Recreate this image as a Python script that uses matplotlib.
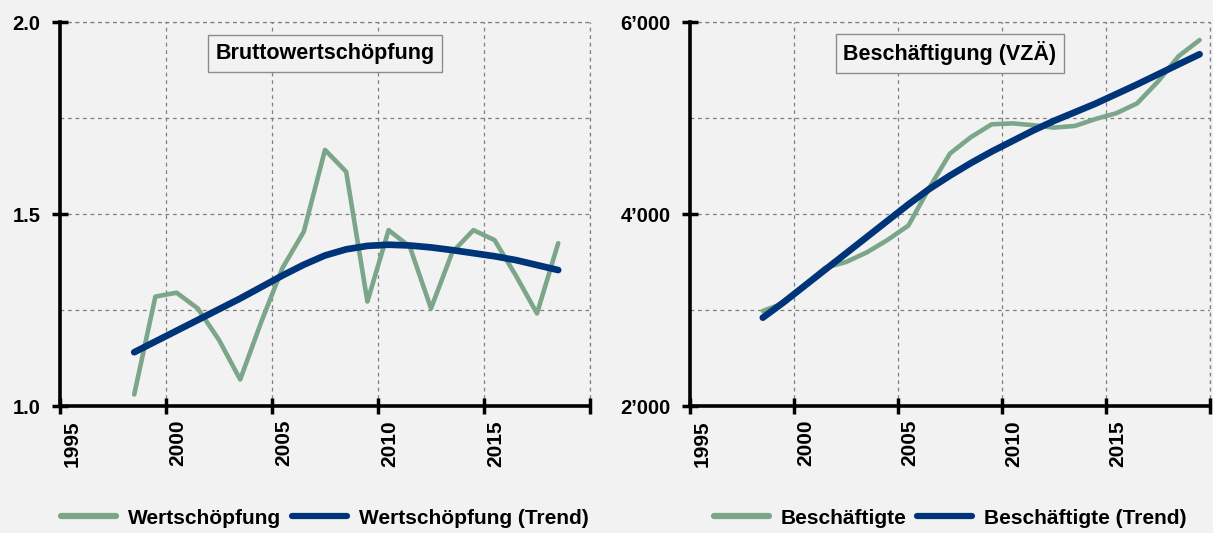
import matplotlib
matplotlib.use("Agg")
import matplotlib.pyplot as plt
from matplotlib.ticker import FixedLocator, FuncFormatter, NullFormatter
import matplotlib.transforms as mtrans

plt.rcParams['font.family'] = ['Liberation Sans', 'DejaVu Sans']
plt.rcParams['font.weight'] = 'bold'

years_l = list(range(1998, 2019))
wertschoepfung = [1.03, 1.285, 1.295, 1.254, 1.172, 1.069, 1.22, 1.36, 1.454, 1.667, 1.61,
                  1.272, 1.458, 1.415, 1.254, 1.40, 1.458, 1.432, 1.34, 1.241, 1.424]
wertschoepfung_trend = [1.14, 1.168, 1.196, 1.224, 1.252, 1.28, 1.31, 1.34, 1.368, 1.392, 1.408,
                        1.417, 1.42, 1.418, 1.413, 1.406, 1.398, 1.39, 1.38, 1.367, 1.354]

years_r = list(range(1998, 2020))
beschaeftigte = [2990, 3070, 3260, 3440, 3500, 3600, 3730, 3880, 4270, 4630, 4800, 4934,
                 4944, 4925, 4900, 4917, 4990, 5050, 5153, 5380, 5646, 5812]
beschaeftigte_trend = [2920, 3080, 3250, 3420, 3590, 3760, 3930, 4100, 4260, 4400, 4530, 4650,
                       4760, 4870, 4970, 5060, 5150, 5250, 5350, 5455, 5560, 5664]

x_ticks = [1995, 2000, 2005, 2010, 2015, 2020]
x_labels = ['1995', '2000', '2005', '2010', '2015', '']

GREEN = '#7BA68A'
BLUE = '#003479'
BG = '#F2F2F2'

fig = plt.figure(figsize=(12.13, 5.33), dpi=100, facecolor=BG)
ax1 = fig.add_axes([60/1213, 1-406/533, 530/1213, 384/533])
ax2 = fig.add_axes([690/1213, 1-406/533, 520/1213, 384/533])

def style(ax, ylim, ymajor, yminor, yfmt, title, series, legend_labels):
    ax.set_facecolor(BG)
    xs = [y + 0.5 for y in series[0]]
    ax.plot(xs, series[1], color=GREEN, lw=3.3, label=legend_labels[0], solid_capstyle='round', zorder=3)
    ax.plot(xs, series[2], color=BLUE, lw=4.8, label=legend_labels[1], solid_capstyle='round', zorder=4)
    ax.set_xlim(1995, 2020)
    ax.set_ylim(*ylim)
    ax.yaxis.set_major_locator(FixedLocator(ymajor))
    ax.yaxis.set_minor_locator(FixedLocator(yminor))
    ax.yaxis.set_major_formatter(FuncFormatter(yfmt))
    ax.xaxis.set_major_locator(FixedLocator(x_ticks))
    ax.xaxis.set_major_formatter(NullFormatter())
    off = mtrans.ScaledTranslation(12/100, -14/100, fig.dpi_scale_trans)
    for xt, lab in zip(x_ticks, x_labels):
        if lab:
            ax.text(xt, 0, lab, transform=ax.get_xaxis_transform() + off, rotation=90,
                    ha='center', va='top', fontsize=15, fontweight='bold')
    for lab in ax.get_yticklabels():
        lab.set_fontsize(14.5)
        lab.set_fontweight('bold')
    ax.tick_params(axis='both', which='major', direction='inout', length=12, width=2.5, color='black')
    ax.tick_params(axis='y', pad=8)
    ax.tick_params(axis='y', which='minor', length=0)
    for s in ['top', 'right']:
        ax.spines[s].set_visible(False)
    for s in ['left', 'bottom']:
        ax.spines[s].set_linewidth(2.6)
        ax.spines[s].set_color('black')
        ax.spines[s].set_zorder(5)
    ax.grid(True, which='both', axis='y', color='#808080', ls=(0, (3, 3)), lw=0.9, zorder=0)
    ax.grid(True, which='major', axis='x', color='#808080', ls=(0, (3, 3)), lw=0.9, zorder=0)
    ax.axvline(2020, color='#808080', ls=(0, (3, 3)), lw=0.9, zorder=0, clip_on=False)
    ax.axhline(ylim[1], color='#808080', ls=(0, (3, 3)), lw=0.9, zorder=0, clip_on=False)
    ax.text(0.5, 0.918, title, transform=ax.transAxes, ha='center', va='center',
            fontsize=15.5, fontweight='bold',
            bbox=dict(boxstyle='square,pad=0.35', facecolor=BG, edgecolor='#8C8C8C', lw=1.0), zorder=6)
    leg = ax.legend(loc='center', bbox_to_anchor=(0.5, -0.292), ncol=2, frameon=False,
                    prop={'size': 15, 'weight': 'bold'}, handlelength=2.64, handletextpad=0.58,
                    columnspacing=0.5)
    for h in leg.get_lines():
        h.set_solid_capstyle('round')
        h.set_linewidth(4.5)

style(ax1, (1.0, 2.0), [1.0, 1.5, 2.0], [1.25, 1.75], lambda v, p: f"{v:.1f}",
      'Bruttowertschöpfung', (years_l, wertschoepfung, wertschoepfung_trend),
      ('Wertschöpfung', 'Wertschöpfung (Trend)'))
style(ax2, (2000, 6000), [2000, 4000, 6000], [3000, 5000],
      lambda v, p: f"{int(v)//1000}\u2019{int(v)%1000:03d}",
      'Beschäftigung (VZÄ)', (years_r, beschaeftigte, beschaeftigte_trend),
      ('Beschäftigte', 'Beschäftigte (Trend)'))

fig.savefig('out.png', dpi=100, facecolor=BG)
